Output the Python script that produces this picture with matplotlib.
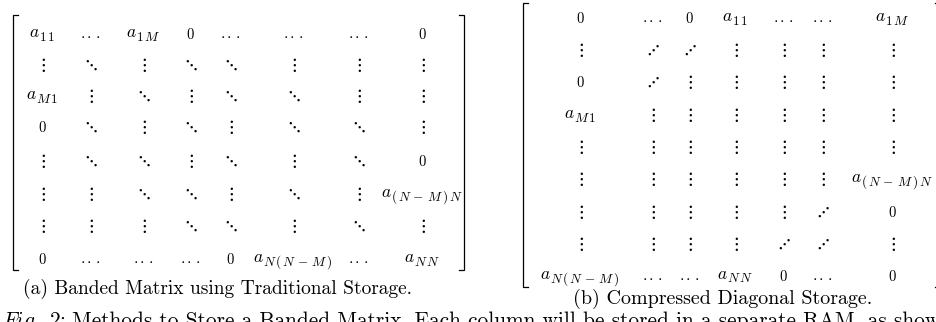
import matplotlib
matplotlib.use('Agg')
import matplotlib.pyplot as plt

plt.rcParams['mathtext.fontset'] = 'cm'
plt.rcParams['font.family'] = ['cmr10', 'DejaVu Serif']
plt.rcParams['axes.formatter.use_mathtext'] = True

# entries of the banded matrix, traditional storage (8 x 8)
banded = [
    [r'a_{11}', r'\cdots', r'a_{1M}', '0', r'\cdots', r'\cdots', r'\cdots', '0'],
    [r'\vdots', r'\ddots', r'\vdots', r'\ddots', r'\ddots', r'\vdots', r'\vdots', r'\vdots'],
    [r'a_{M1}', r'\vdots', r'\ddots', r'\vdots', r'\ddots', r'\ddots', r'\vdots', r'\vdots'],
    ['0', r'\ddots', r'\vdots', r'\ddots', r'\vdots', r'\ddots', r'\ddots', r'\vdots'],
    [r'\vdots', r'\ddots', r'\ddots', r'\vdots', r'\ddots', r'\vdots', r'\ddots', '0'],
    [r'\vdots', r'\vdots', r'\ddots', r'\ddots', r'\vdots', r'\ddots', r'\vdots', r'a_{(N-M)N}'],
    [r'\vdots', r'\vdots', r'\vdots', r'\ddots', r'\ddots', r'\vdots', r'\ddots', r'\vdots'],
    ['0', r'\cdots', r'\cdots', r'\cdots', '0', r'a_{N(N-M)}', r'\cdots', r'a_{NN}'],
]

# entries of the compressed diagonal storage (9 x 7)
compressed = [
    ['0', r'\cdots', '0', r'a_{11}', r'\cdots', r'\cdots', r'a_{1M}'],
    [r'\vdots', r'\adots', r'\adots', r'\vdots', r'\vdots', r'\vdots', r'\vdots'],
    ['0', r'\adots', r'\vdots', r'\vdots', r'\vdots', r'\vdots', r'\vdots'],
    [r'a_{M1}', r'\vdots', r'\vdots', r'\vdots', r'\vdots', r'\vdots', r'\vdots'],
    [r'\vdots', r'\vdots', r'\vdots', r'\vdots', r'\vdots', r'\vdots', r'\vdots'],
    [r'\vdots', r'\vdots', r'\vdots', r'\vdots', r'\vdots', r'\vdots', r'a_{(N-M)N}'],
    [r'\vdots', r'\vdots', r'\vdots', r'\vdots', r'\vdots', r'\adots', '0'],
    [r'\vdots', r'\vdots', r'\vdots', r'\vdots', r'\adots', r'\adots', r'\vdots'],
    [r'a_{N(N-M)}', r'\cdots', r'\cdots', r'a_{NN}', '0', r'\cdots', '0'],
]

caption_a = '(a) Banded Matrix using Traditional Storage.'
caption_b = '(b) Compressed Diagonal Storage.'
fig_label = r'$\mathit{Fig.\ 2}$:'
fig_caption = 'Methods to Store a Banded Matrix. Each column will be stored in a separate RAM, as shown'

# layout in pixels (column centres, row baselines)
a_cols = [42, 90, 143, 190, 230, 293, 358, 422]
a_rows = [39, 70, 101, 132, 166, 199, 231, 264]
b_cols = [580, 652, 689, 735, 783, 822, 892]
b_rows = [23, 55, 87, 120, 152, 184, 217, 249, 281]

fig = plt.figure(figsize=(9.37, 3.22), dpi=100)
ax = fig.add_axes([0, 0, 1, 1])
ax.set_xlim(0, 937)
ax.set_ylim(322, 0)
ax.axis('off')
renderer = fig.canvas.get_renderer()


def element(ax, x, y, s):
    # a_{..}: raised "a", spaced-out subscript at about the size of the zeros
    sub = s[3:-1]
    sub = r'\,'.join(ch for ch in sub)
    ta = ax.text(0, 0, '$a$', fontsize=12.5, ha='left', va='baseline')
    ts = ax.text(0, 0, '$' + sub + '$', fontsize=9.5, ha='left', va='baseline')
    wa = ta.get_window_extent(renderer).width
    ws = ts.get_window_extent(renderer).width
    gap = -1
    left = x - (wa + gap + ws) / 2
    ta.set_position((left, y - 2))
    ts.set_position((left + wa + gap, y + 1.5))


def draw_matrix(ax, rows, xs, ys):
    for i, row in enumerate(rows):
        for j, s in enumerate(row):
            if s.startswith('a_'):
                element(ax, xs[j], ys[i], s)
                continue
            if s == '0':
                txt, size = '$0$', 10.5
            elif s == r'\cdots':
                txt, size = r'$\cdot\!\!\;\cdot\!\!\;\cdot$', 11.5
            else:
                txt, size = '$' + s + '$', 13.5
            ax.text(xs[j], ys[i], txt, fontsize=size,
                    ha='center', va='baseline', color='black')


def bracket(ax, x, top, bottom, side):
    serif = 5 if side == 'left' else -5
    ax.plot([x + serif, x, x, x + serif], [top, top, bottom, bottom],
            color='black', lw=0.9, solid_joinstyle='miter')


draw_matrix(ax, banded, a_cols, a_rows)
bracket(ax, 13, 15, 270, 'left')
bracket(ax, 464, 15, 270, 'right')

draw_matrix(ax, compressed, b_cols, b_rows)
bracket(ax, 523, 3, 287, 'left')
bracket(ax, 940, 3, 287, 'right')

ax.text(218, 294, caption_a, fontsize=14, ha='center', va='baseline')
ax.text(723, 304, caption_b, fontsize=14.4, ha='center', va='baseline')
ax.text(2, 327, fig_label, fontsize=15.4, ha='left', va='baseline')
ax.text(72, 327, fig_caption, fontsize=15.4, ha='left', va='baseline')

fig.savefig('out.png', dpi=100)
